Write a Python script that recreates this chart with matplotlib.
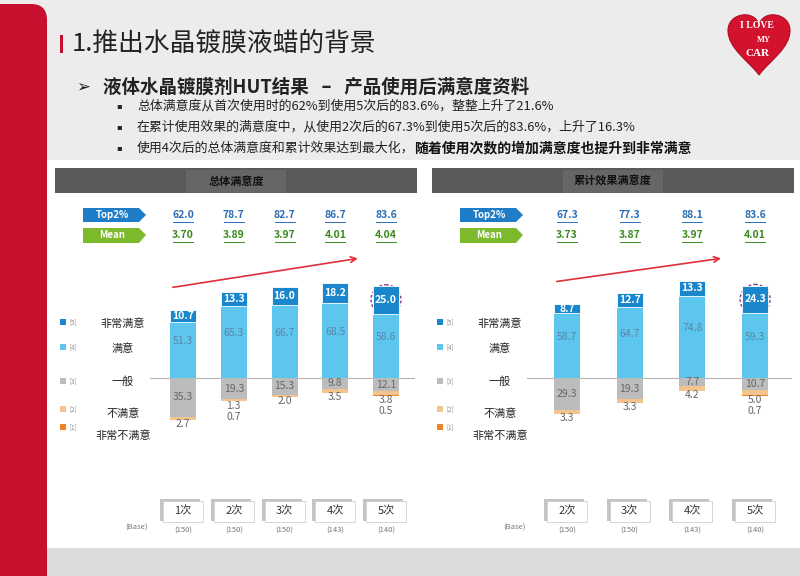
import matplotlib
matplotlib.use('Agg')
import matplotlib.pyplot as plt
import matplotlib.transforms as mtransforms
from matplotlib.patches import Rectangle, FancyBboxPatch, Polygon, Ellipse, PathPatch
from matplotlib.path import Path

plt.rcParams['font.family'] = ['Noto Sans CJK SC', 'DejaVu Sans']

levels = ['非常满意', '满意', '一般', '不满意', '非常不满意']
level_codes = ['[5]', '[4]', '[3]', '[2]', '[1]']
colors = ['#1a87cc', '#5cc6ef', '#bcbcbc', '#f4c48e', '#ef8426']

# 总体满意度
left_times = ['1次', '2次', '3次', '4次', '5次']
left_base = ['(150)', '(150)', '(150)', '(143)', '(140)']
left_top2 = ['62.0', '78.7', '82.7', '86.7', '83.6']
left_mean = ['3.70', '3.89', '3.97', '4.01', '4.04']
left_very_sat = [10.7, 13.3, 16.0, 18.2, 25.0]
left_sat = [51.3, 65.3, 66.7, 68.5, 58.6]
left_neutral = [35.3, 19.3, 15.3, 9.8, 12.1]
left_dissat = [2.7, 1.3, 2.0, 3.5, 3.8]
left_very_dissat = [0.0, 0.7, 0.0, 0.0, 0.5]

# 累计效果满意度
right_times = ['2次', '3次', '4次', '5次']
right_base = ['(150)', '(150)', '(143)', '(140)']
right_top2 = ['67.3', '77.3', '88.1', '83.6']
right_mean = ['3.73', '3.87', '3.97', '4.01']
right_very_sat = [8.7, 12.7, 13.3, 24.3]
right_sat = [58.7, 64.7, 74.8, 59.3]
right_neutral = [29.3, 19.3, 7.7, 10.7]
right_dissat = [3.3, 3.3, 4.2, 5.0]
right_very_dissat = [0.0, 0.0, 0.0, 0.7]

W, H = 800, 576
fig = plt.figure(figsize=(8, 5.76), dpi=100)

# slide background in pixel coordinates
bg = fig.add_axes([0, 0, 1, 1], zorder=0)
bg.set_xlim(0, W)
bg.set_ylim(H, 0)
bg.axis('off')
bg.add_patch(Rectangle((0, 0), W, 160, fc='#ececec', ec='none'))
bg.add_patch(Rectangle((0, 160), W, 388, fc='white', ec='none'))
bg.add_patch(Rectangle((0, 548), W, 28, fc='#dcdcdc', ec='none'))
bg.add_patch(FancyBboxPatch((-20, 4), 67, 600, boxstyle='round,pad=0,rounding_size=16',
                            fc='#c8102e', ec='none'))

# logo: heart shape
cx, cy, rx, ry = 759, 42, 31, 33
unit = [(0, 1), (-0.3, 0.6), (-1, 0.2), (-1, -0.35), (-1, -0.9), (-0.1, -1.0), (0, -0.5),
        (0.1, -1.0), (1, -0.9), (1, -0.35), (1, 0.2), (0.3, 0.6), (0, 1)]
codes = [Path.MOVETO] + [Path.CURVE4] * 12
heart = Path([(cx + rx * u, cy + ry * v) for u, v in unit], codes)
bg.add_patch(PathPatch(heart, fc='#d3122d', ec='#b00d24', lw=0.8))
bg.text(757, 26, 'I LOVE', fontsize=7, color='white', ha='center', va='center',
        family='Liberation Serif', fontweight='bold')
bg.text(764, 40, 'MY', fontsize=6, color='white', ha='center', va='center',
        family='Liberation Serif', fontweight='bold')
bg.text(757, 54, 'CAR', fontsize=8, color='white', ha='center', va='center',
        family='Liberation Serif', fontweight='bold')

# titles
bg.add_patch(Rectangle((60, 35), 3, 18, fc='#c8102e', ec='none'))
bg.text(72, 44, '1.推出水晶镀膜液蜡的背景', fontsize=18.5, va='center', color='#222222')
bg.text(76, 87, '\u27a2', fontsize=12, va='center', family=['DejaVu Sans'], color='#222222')
bg.text(103, 87, '液体水晶镀膜剂HUT结果   \u2013   产品使用后满意度资料', fontsize=13.3,
        va='center', fontweight='bold', color='#222222')
bullets = ['总体满意度从首次使用时的62%到使用5次后的83.6%，整整上升了21.6%',
           '在累计使用效果的满意度中，从使用2次后的67.3%到使用5次后的83.6%，上升了16.3%',
           '使用4次后的总体满意度和累计效果达到最大化，']
for i, b in enumerate(bullets):
    y = 106 + i * 21
    bg.text(116, y, '\u25aa', fontsize=6, va='center', family=['DejaVu Sans'], color='#222222')
    t = bg.text(137, y, b, fontsize=9.3, va='center', color='#222222')
renderer = fig.canvas.get_renderer()
ext = t.get_window_extent(renderer)
x_end = bg.transData.inverted().transform((ext.x1, ext.y0))[0]
bg.text(x_end, 148, '随着使用次数的增加满意度也提升到非常满意', fontsize=10, va='center',
        fontweight='bold', color='#111111')


def draw_panel(ax, px_left, centers_px, bar_px, header, segs, top2, mean, times, base):
    n = len(times)
    x = list(range(n))
    sp = centers_px[1] - centers_px[0]
    bar_w = bar_px / sp
    # header bar
    bg.add_patch(Rectangle((px_left, 168), 362, 25, fc='#5a5a5a', ec='none'))
    bg.add_patch(Rectangle((px_left + 131, 170), 100, 23, fc='#666666', ec='none'))
    bg.text(px_left + 181, 181, header, fontsize=8, ha='center', va='center',
            fontweight='bold', color='#111111')

    vs, s, ne, d, vd = segs
    ax.bar(x, s, bar_w, color=colors[1], zorder=2)
    ax.bar(x, vs, bar_w, bottom=s, color=colors[0], zorder=2, edgecolor='white', linewidth=0.6)
    ax.bar(x, [-v for v in ne], bar_w, color=colors[2], zorder=2)
    ax.bar(x, [-v for v in d], bar_w, bottom=[-v for v in ne], color=colors[3], zorder=2)
    ax.bar(x, [-v for v in vd], bar_w, bottom=[-(a + b) for a, b in zip(ne, d)],
           color=colors[4], zorder=2)
    ax.axhline(0, color='#b5b5b5', lw=0.8, zorder=1)
    for i in x:
        ax.text(i, s[i] + vs[i] / 2, f'{vs[i]:.1f}', ha='center', va='center', fontsize=7.5,
                color='white', fontweight='bold', zorder=3)
        ax.text(i, s[i] / 2 + 8, f'{s[i]:.1f}', ha='center', va='center', fontsize=7.5,
                color='#5a86a8', zorder=3)
        ax.text(i, -ne[i] / 2, f'{ne[i]:.1f}', ha='center', va='center', fontsize=7.5,
                color='#666666', zorder=3)
        yb = -(ne[i] + d[i] + vd[i]) - 4
        for v in (d[i], vd[i]):
            if v > 0:
                ax.text(i, yb, f'{v:.1f}', ha='center', va='center', fontsize=7.5,
                        color='#666666', zorder=3)
                yb -= 10

    ax.set_xlim((px_left + 95 - centers_px[0]) / sp, (px_left + 360 - centers_px[0]) / sp)
    ax.set_ylim(-(470 - 378) / 1.1, (378 - 250) / 1.1)
    ax.axis('off')

    # rows above and below bars: x in data, y in slide pixels
    tr = mtransforms.blended_transform_factory(ax.transData, bg.transData)
    for i in x:
        ax.text(i, 215, top2[i], transform=tr, ha='center', va='center', fontsize=7.5,
                color='#2a6db5', fontweight='bold', clip_on=False)
        ax.text(i, 235, mean[i], transform=tr, ha='center', va='center', fontsize=7.5,
                color='#3a8a1e', fontweight='bold', clip_on=False)
        ax.plot([i - 10 / sp, i + 10 / sp], [222, 222], transform=tr,
                color='#2a6db5', lw=0.7, clip_on=False)
        ax.plot([i - 10 / sp, i + 10 / sp], [242, 242], transform=tr,
                color='#3a8a1e', lw=0.7, clip_on=False)
        bw = 40 / sp
        ax.add_patch(Rectangle((i - bw / 2 - 3 / sp, 499), bw, 22, transform=tr,
                               fc='#c4c4c4', ec='none', clip_on=False))
        ax.add_patch(Rectangle((i - bw / 2, 501), bw, 21, transform=tr,
                               fc='white', ec='#cfcfcf', lw=0.6, clip_on=False))
        ax.text(i, 511, times[i], transform=tr, ha='center', va='center', fontsize=8,
                color='#333333', clip_on=False)
        ax.text(i, 531, base[i], transform=tr, ha='center', va='center', fontsize=5.5,
                color='#777777', style='italic', clip_on=False)

    # tags
    tx = px_left + 28
    bg.add_patch(Polygon([(tx, 208), (tx + 56, 208), (tx + 63, 215), (tx + 56, 222), (tx, 222)],
                         closed=True, fc='#1f7cc6', ec='none'))
    bg.text(tx + 29, 215, 'Top2%', fontsize=7, color='white', fontweight='bold',
            ha='center', va='center')
    bg.add_patch(Polygon([(tx, 228), (tx + 56, 228), (tx + 63, 235), (tx + 56, 243), (tx, 243)],
                         closed=True, fc='#7cba2c', ec='none'))
    bg.text(tx + 29, 235.5, 'Mean', fontsize=7, color='white', fontweight='bold',
            ha='center', va='center')
    bg.text(px_left + 82, 528, '(Base)', fontsize=5.5, color='#777777', style='italic',
            ha='center', va='center')

    # legend
    lx = px_left + 8
    ly = [322, 347, 381, 409, 427]
    lt = [324, 349, 382, 414, 436]
    for k in range(5):
        bg.add_patch(Rectangle((lx - 3, ly[k] - 3), 6, 6, fc=colors[k], ec='none'))
        bg.text(lx + 6, ly[k], level_codes[k], fontsize=4.5, color='#888888', va='center')
        bg.text(px_left + 68, lt[k], levels[k], fontsize=8, color='#222222',
                ha='center', va='center')

    # trend arrow and highlight circle
    p0 = bg.transData.inverted().transform(ax.transData.transform((0 - bar_w / 2, s[0] + vs[0])))
    p1 = bg.transData.inverted().transform(ax.transData.transform((n - 1.5, s[-1] + vs[-1])))
    bg.annotate('', xy=(p1[0], 258), xytext=(p0[0], p0[1] - 22),
                arrowprops=dict(arrowstyle='->', color='#e0303a', lw=1.2))
    c = bg.transData.inverted().transform(ax.transData.transform((n - 1, s[-1] + vs[-1] / 2)))
    bg.add_patch(Ellipse((c[0], c[1]), 30, 30, fill=False, ec='#8a3a8a', ls=(0, (2, 1.5)),
                         lw=1.0, zorder=5))


def add_axes_px(x0, x1, y0, y1):
    return fig.add_axes([x0 / W, 1 - y1 / H, (x1 - x0) / W, (y1 - y0) / H], zorder=1,
                        facecolor='none')


ax1 = add_axes_px(150, 415, 250, 470)
draw_panel(ax1, 55, [183, 233.75, 284.5, 335.25, 386], 26, '总体满意度',
           [left_very_sat, left_sat, left_neutral, left_dissat, left_very_dissat],
           left_top2, left_mean, left_times, left_base)

ax2 = add_axes_px(527, 792, 250, 470)
draw_panel(ax2, 432, [567, 629.7, 692.3, 755], 26, '累计效果满意度',
           [right_very_sat, right_sat, right_neutral, right_dissat, right_very_dissat],
           right_top2, right_mean, right_times, right_base)

fig.savefig('out.png', dpi=100)
